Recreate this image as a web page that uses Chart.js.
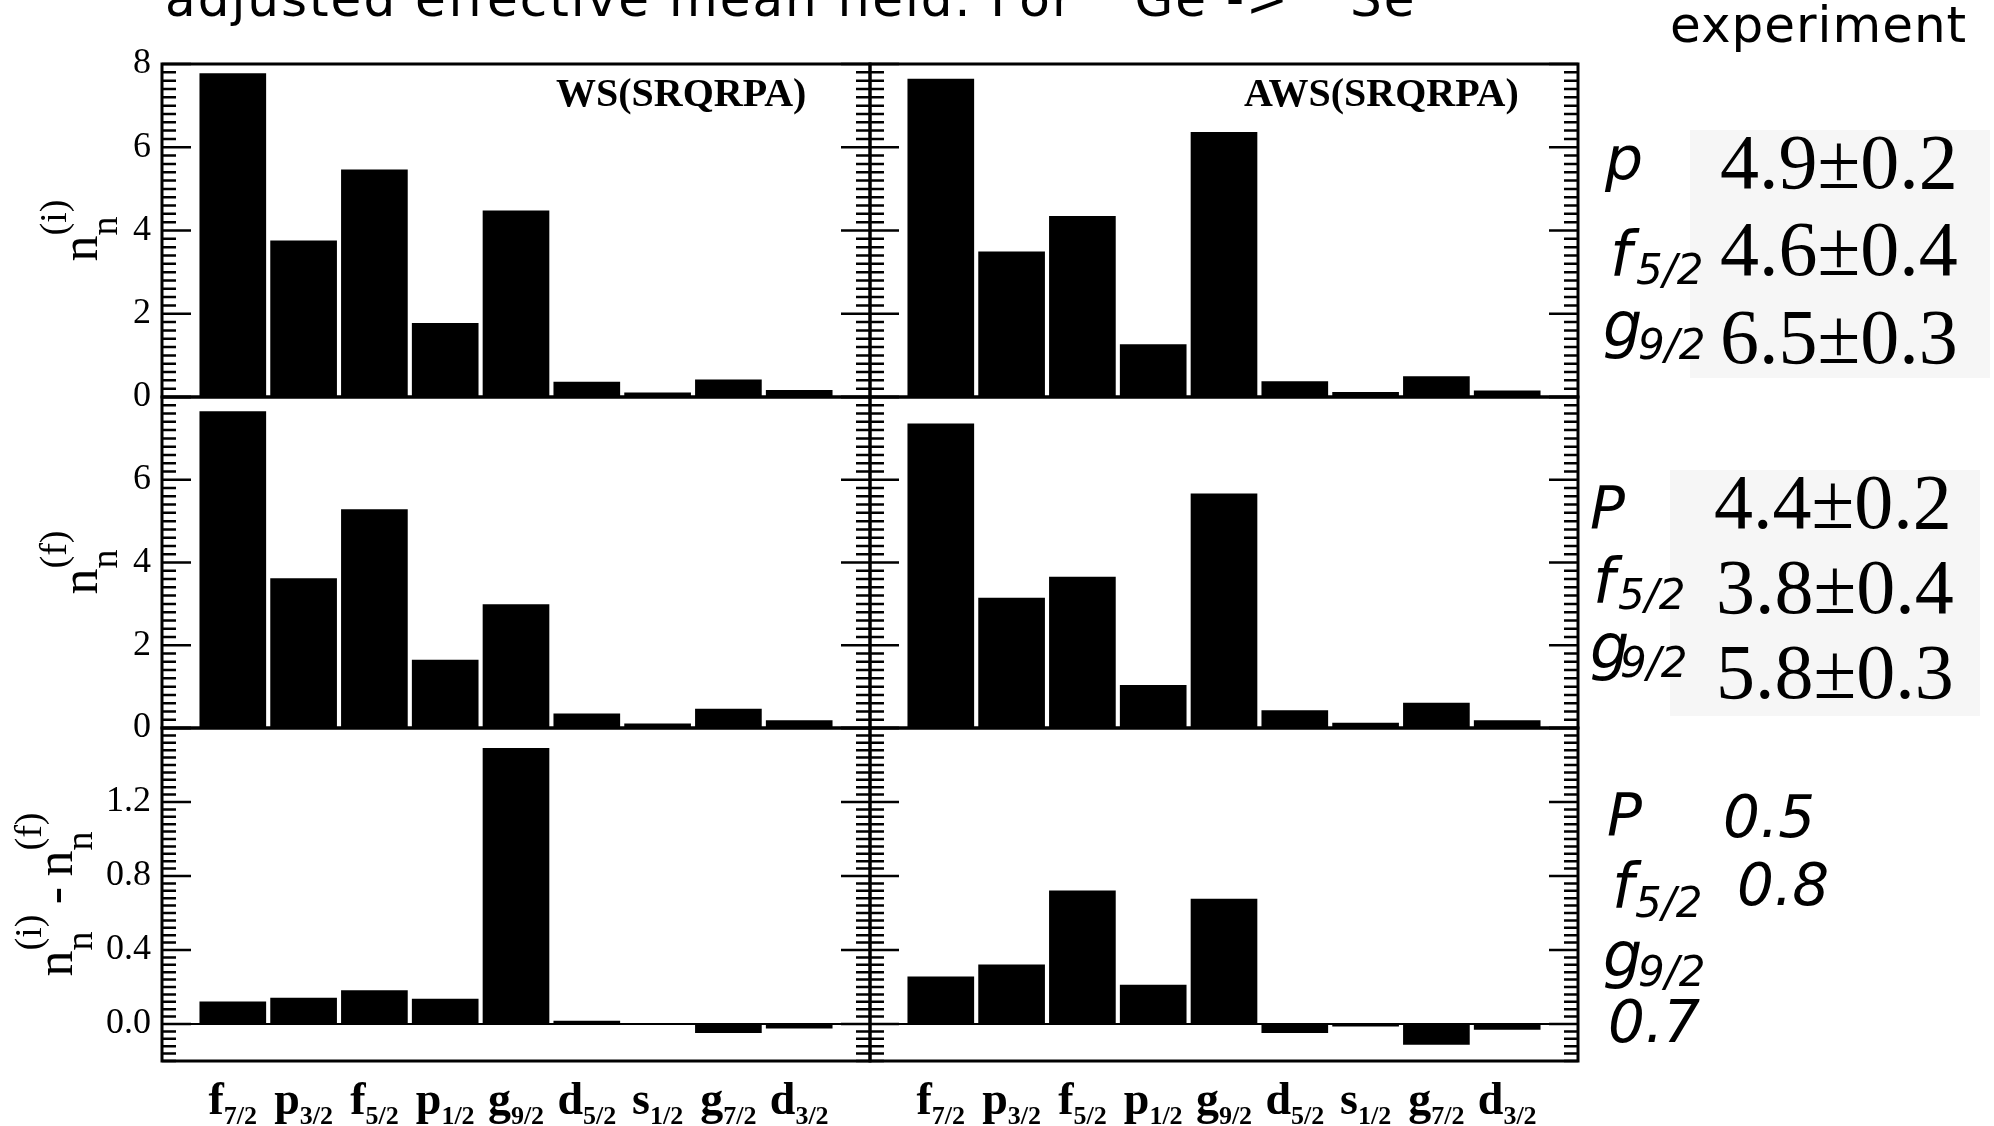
<!DOCTYPE html>
<html>
<head>
<meta charset="utf-8">
<script src="https://cdn.jsdelivr.net/npm/chart.js@4.4.1/dist/chart.umd.min.js"></script>
<style>
  html, body { margin: 0; padding: 0; background: #fff; }
  #page { position: relative; width: 1994px; height: 1126px; overflow: hidden; background: #fff; }
  #page canvas { position: absolute; left: 0; top: 0; }
  .note { position: absolute; white-space: nowrap; line-height: 1; color: #000; }
  .sans { font-family: "DejaVu Sans", sans-serif; }
  .it { font-style: italic; }
  .serif { font-family: "Liberation Serif", serif; }
  .shade { position: absolute; background: #f6f6f6; }
  .note sup { font-size: 0.6em; line-height: 0; vertical-align: baseline; position: relative; top: -0.7em; }
</style>
</head>
<body>
<div id="page">
  <div class="shade" style="left:1690px; top:130px; width:300px; height:248px;"></div>
  <div class="shade" style="left:1670px; top:470px; width:310px; height:246px;"></div>
  <canvas id="wsInit" width="1994" height="1126"></canvas>
  <canvas id="wsFin" width="1994" height="1126"></canvas>
  <canvas id="wsDiff" width="1994" height="1126"></canvas>
  <canvas id="awsInit" width="1994" height="1126"></canvas>
  <canvas id="awsFin" width="1994" height="1126"></canvas>
  <canvas id="awsDiff" width="1994" height="1126"></canvas>
  <div id="notes"></div>
</div>
<script>
// single-particle orbitals along the x axis
const categories = ['f7/2', 'p3/2', 'f5/2', 'p1/2', 'g9/2', 'd5/2', 's1/2', 'g7/2', 'd3/2'];

// neutron occupancies, WS mean field
const wsInitial = [7.77, 3.75, 5.46, 1.77, 4.47, 0.36, 0.10, 0.41, 0.16];
const wsFinal   = [7.65, 3.61, 5.28, 1.64, 2.98, 0.34, 0.10, 0.46, 0.18];
const wsChange  = [0.12, 0.14, 0.18, 0.135, 1.49, 0.016, 0.002, -0.047, -0.022];

// neutron occupancies, adjusted WS mean field
const awsInitial = [7.64, 3.49, 4.34, 1.26, 6.36, 0.37, 0.11, 0.49, 0.15];
const awsFinal   = [7.35, 3.14, 3.65, 1.03, 5.66, 0.42, 0.12, 0.60, 0.18];
const awsChange  = [0.255, 0.32, 0.72, 0.21, 0.675, -0.047, -0.012, -0.111, -0.029];

// labelled y ticks
const occTicks = [0, 2, 4, 6, 8];
const occTicksLower = [0, 2, 4, 6];
const changeTicks = [0, 0.4, 0.8, 1.2];

const PAGE_W = 1994, PAGE_H = 1126;
const colX = [[162, 870], [870, 1578]];
const rowY = [[64, 397], [397, 728], [728, 1061]];

function drawStackedTitle(ctx, groups, baseX, centerY) {
  const big = '52px "Liberation Serif"';
  const small = '38px "Liberation Serif"';
  const widths = groups.map(g => {
    ctx.font = big;
    const wm = ctx.measureText(g.main).width;
    let ws = 0;
    if (g.sub) {
      ctx.font = small;
      ws = Math.max(ctx.measureText(g.sub).width, ctx.measureText(g.sup).width);
    }
    return wm + ws;
  });
  const total = widths.reduce((a, b) => a + b, 0);
  ctx.save();
  ctx.translate(baseX, centerY + total / 2);
  ctx.rotate(-Math.PI / 2);
  ctx.textBaseline = 'alphabetic';
  ctx.textAlign = 'left';
  let cx = 0;
  groups.forEach((g, k) => {
    ctx.font = big;
    ctx.fillText(g.main, cx, 0);
    const wm = ctx.measureText(g.main).width;
    if (g.sub) {
      ctx.font = small;
      ctx.fillText(g.sub, cx + wm, 20);
      ctx.fillText(g.sup, cx + wm, -31);
    }
    cx += widths[k];
  });
  ctx.restore();
}

// frame, inward ticks, panel labels and orbital names
const panelDecor = {
  id: 'panelDecor',
  afterDraw(chart, args, opts) {
    const ctx = chart.ctx;
    const area = chart.chartArea;
    const y = chart.scales.y;
    const x = chart.scales.x;
    ctx.save();
    ctx.strokeStyle = '#000';
    ctx.fillStyle = '#000';

    const n = Math.round((y.max - y.min) / opts.minorStep);
    ctx.lineWidth = 2.5;
    ctx.beginPath();
    for (let k = 0; k <= n; k++) {
      const v = y.min + k * opts.minorStep;
      const r = v / opts.majorStep;
      const len = Math.abs(r - Math.round(r)) < 1e-6 ? 29 : 14;
      const py = y.getPixelForValue(v);
      ctx.moveTo(area.left, py);
      ctx.lineTo(area.left + len, py);
      ctx.moveTo(area.right, py);
      ctx.lineTo(area.right - len, py);
    }
    ctx.stroke();

    if (opts.zeroLine) {
      const p0 = y.getPixelForValue(0);
      ctx.lineWidth = 2;
      ctx.beginPath();
      ctx.moveTo(area.left, p0);
      ctx.lineTo(area.right, p0);
      ctx.stroke();
    }

    ctx.lineWidth = 3;
    ctx.strokeRect(area.left, area.top, area.right - area.left, area.bottom - area.top);

    if (opts.label) {
      ctx.font = 'bold 40px "Liberation Serif"';
      ctx.textAlign = 'left';
      ctx.textBaseline = 'alphabetic';
      ctx.fillText(opts.label, area.left + opts.labelX, area.top + 42);
    }

    if (opts.title) {
      const cy = (area.top + area.bottom) / 2;
      if (opts.title === 'diff') {
        drawStackedTitle(ctx, [
          { main: 'n', sub: 'n', sup: '(i)' },
          { main: '\u2009-\u2009' },
          { main: 'n', sub: 'n', sup: '(f)' }
        ], 72, cy);
      } else {
        drawStackedTitle(ctx, [{ main: 'n', sub: 'n', sup: '(' + opts.title + ')' }], 97, cy);
      }
    }

    if (opts.categories) {
      ctx.textAlign = 'left';
      ctx.textBaseline = 'alphabetic';
      categories.forEach((c, i) => {
        const letter = c[0], sub = c.slice(1);
        ctx.font = 'bold 46px "Liberation Serif"';
        const wl = ctx.measureText(letter).width;
        ctx.font = 'bold 26px "Liberation Serif"';
        const ws = ctx.measureText(sub).width;
        const left = x.getPixelForValue(i) - (wl + ws) / 2;
        ctx.font = 'bold 46px "Liberation Serif"';
        ctx.fillText(letter, left, area.bottom + 53);
        ctx.font = 'bold 26px "Liberation Serif"';
        ctx.fillText(sub, left + wl, area.bottom + 63);
      });
    }
    ctx.restore();
  }
};

function makePanel(id, values, col, row, cfg) {
  const [left, right] = colX[col];
  const [top, bottom] = rowY[row];
  const showTicks = col === 0;
  const axisWidth = 100;
  return new Chart(document.getElementById(id), {
    type: 'bar',
    data: {
      datasets: [{
        data: values.map((v, i) => ({ x: i, y: v })),
        backgroundColor: '#000',
        borderWidth: 0,
        barThickness: 66
      }]
    },
    options: {
      responsive: false,
      animation: false,
      devicePixelRatio: 1,
      layout: {
        padding: {
          left: showTicks ? left - axisWidth : left,
          right: PAGE_W - right,
          top: top,
          bottom: PAGE_H - bottom
        }
      },
      plugins: {
        legend: { display: false },
        tooltip: { enabled: false },
        panelDecor: cfg.decor
      },
      scales: {
        x: { type: 'linear', min: -1, max: 9, offset: false, display: false, ticks: { stepSize: 1 } },
        y: {
          type: 'linear',
          min: cfg.min,
          max: cfg.max,
          display: showTicks,
          afterFit(scale) { if (showTicks) scale.width = axisWidth; },
          afterBuildTicks(scale) { scale.ticks = cfg.ticks.map(v => ({ value: v })); },
          grid: { display: false, drawTicks: false },
          border: { display: false },
          ticks: {
            padding: 11,
            color: '#000',
            font: { family: 'Liberation Serif', size: 36 },
            callback: v => cfg.decimals ? Number(v).toFixed(cfg.decimals) : String(v)
          }
        }
      }
    },
    plugins: [panelDecor]
  });
}

const occDecor = { minorStep: 0.2, majorStep: 2 };
const diffDecor = { minorStep: 0.04, majorStep: 0.4, zeroLine: true };

makePanel('wsInit', wsInitial, 0, 0, { min: 0, max: 8, ticks: occTicks,
  decor: Object.assign({ label: 'WS(SRQRPA)', labelX: 394, title: 'i' }, occDecor) });
makePanel('wsFin', wsFinal, 0, 1, { min: 0, max: 8, ticks: occTicksLower,
  decor: Object.assign({ title: 'f' }, occDecor) });
makePanel('wsDiff', wsChange, 0, 2, { min: -0.2, max: 1.6, ticks: changeTicks, decimals: 1,
  decor: Object.assign({ title: 'diff', categories: true }, diffDecor) });
makePanel('awsInit', awsInitial, 1, 0, { min: 0, max: 8, ticks: occTicks,
  decor: Object.assign({ label: 'AWS(SRQRPA)', labelX: 374 }, occDecor) });
makePanel('awsFin', awsFinal, 1, 1, { min: 0, max: 8, ticks: occTicksLower,
  decor: Object.assign({}, occDecor) });
makePanel('awsDiff', awsChange, 1, 2, { min: -0.2, max: 1.6, ticks: changeTicks, decimals: 1,
  decor: Object.assign({ categories: true }, diffDecor) });

// text around the panels, placed by baseline
const notes = document.getElementById('notes');
function note(html, x, base, size, cls, extra) {
  const d = document.createElement('div');
  d.className = 'note ' + cls;
  const k = cls.indexOf('serif') >= 0 ? 0.8375 : 0.846;
  d.style.left = x + 'px';
  d.style.top = (base - k * size) + 'px';
  d.style.fontSize = size + 'px';
  if (extra) d.style.cssText += extra;
  d.innerHTML = html;
  notes.appendChild(d);
}

note('adjusted effective mean field. For <sup>76</sup>Ge -&gt; <sup>76</sup>Se', 165, 16, 50, 'sans', 'letter-spacing:2px;');
note('experiment', 1670, 42, 50, 'sans', 'letter-spacing:1px;');

note('p', 1605, 180, 60, 'sans it');
note('4.9±0.2', 1720, 188, 78, 'serif');
note('f', 1610, 275, 62, 'sans it');
note('5/2', 1636, 285, 42, 'sans it');
note('4.6±0.4', 1720, 275, 78, 'serif');
note('g', 1603, 346, 62, 'sans it');
note('9/2', 1638, 360, 42, 'sans it');
note('6.5±0.3', 1720, 363, 78, 'serif');

note('P', 1590, 528, 58, 'sans it');
note('4.4±0.2', 1714, 528, 78, 'serif');
note('f', 1593, 602, 62, 'sans it');
note('5/2', 1618, 610, 42, 'sans it');
note('3.8±0.4', 1716, 613, 78, 'serif');
note('g', 1590, 668, 62, 'sans it');
note('9/2', 1620, 678, 42, 'sans it');
note('5.8±0.3', 1716, 698, 78, 'serif');

note('P', 1607, 835, 58, 'sans it');
note('0.5', 1723, 837, 58, 'sans it');
note('f', 1612, 907, 62, 'sans it');
note('5/2', 1635, 918, 42, 'sans it');
note('0.8', 1737, 905, 58, 'sans it');
note('g', 1603, 976, 62, 'sans it');
note('9/2', 1638, 987, 42, 'sans it');
note('0.7', 1608, 1042, 58, 'sans it');
</script>
</body>
</html>
